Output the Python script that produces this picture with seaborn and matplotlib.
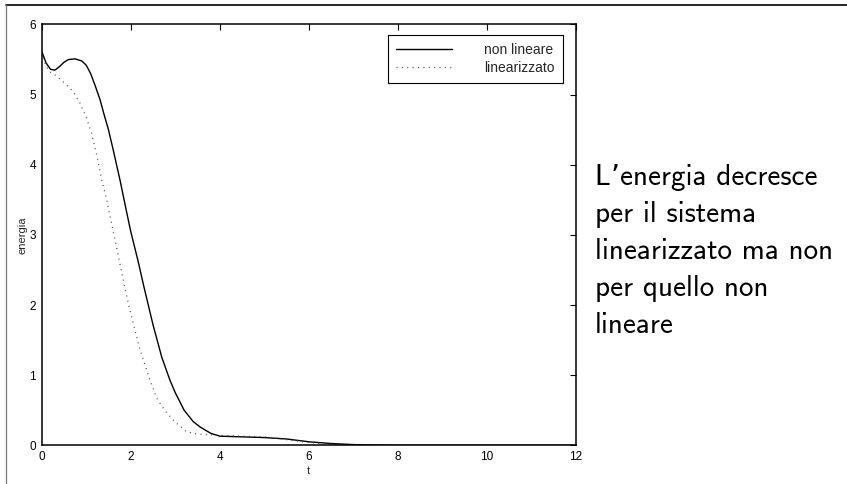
import matplotlib
matplotlib.use("Agg")
import matplotlib.pyplot as plt
from matplotlib.lines import Line2D
import seaborn as sns
import pandas as pd

# ---- data ----
t_nonlin = [0.0, 0.1, 0.2, 0.3, 0.4, 0.5, 0.6, 0.75, 0.9, 1.0, 1.1, 1.2, 1.31, 1.4, 1.5,
            1.6, 1.76, 1.9, 2.0, 2.16, 2.3, 2.5, 2.7, 2.88, 3.0, 3.2, 3.4, 3.56, 3.8,
            4.0, 4.5, 5.0, 5.5, 6.0, 6.5, 7.0, 7.5, 8.0, 12.0]
e_nonlin = [5.62, 5.45, 5.36, 5.35, 5.40, 5.46, 5.50, 5.51, 5.48, 5.42, 5.30, 5.13, 4.93, 4.72, 4.50,
            4.23, 3.78, 3.35, 3.05, 2.64, 2.25, 1.72, 1.25, 0.93, 0.75, 0.50, 0.34, 0.26, 0.17,
            0.13, 0.12, 0.11, 0.09, 0.05, 0.025, 0.01, 0.003, 0.0, 0.0]

t_lin = [0.0, 0.1, 0.2, 0.3, 0.45, 0.64, 0.75, 0.86, 1.0, 1.12, 1.25, 1.35, 1.46, 1.6,
         1.74, 1.9, 2.0, 2.2, 2.43, 2.6, 2.81, 3.0, 3.26, 3.5, 3.78, 4.0, 4.5, 5.0,
         5.5, 6.0, 6.5, 7.0, 7.5, 12.0]
e_lin = [5.60, 5.40, 5.32, 5.28, 5.20, 5.09, 5.00, 4.88, 4.68, 4.45, 4.10, 3.78, 3.50, 3.07,
         2.64, 2.15, 1.88, 1.38, 0.93, 0.65, 0.46, 0.33, 0.19, 0.16, 0.15, 0.14, 0.13, 0.12,
         0.08, 0.04, 0.015, 0.003, 0.0, 0.0]

series_names = ["non lineare", "linearizzato"]
x_ticks = [0, 2, 4, 6, 8, 10, 12]
y_ticks = [0, 1, 2, 3, 4, 5, 6]
side_text = ["L\u2019energia decresce", "per il sistema", "linearizzato ma non",
             "per quello non", "lineare"]

df_nonlin = pd.DataFrame({"t": t_nonlin, "energia": e_nonlin})
df_lin = pd.DataFrame({"t": t_lin, "energia": e_lin})

sns.set_style("white")
plt.rcParams["font.family"] = ["Liberation Sans", "DejaVu Sans"]

fig = plt.figure(figsize=(8.47, 4.84), dpi=100)
ax = fig.add_axes([0.0492, 0.0800, 0.6308, 0.8694])

sns.lineplot(data=df_nonlin, x="t", y="energia", ax=ax, color="black",
             linewidth=1.0, label=series_names[0], sort=False)
sns.lineplot(data=df_lin, x="t", y="energia", ax=ax, color="#444444",
             linewidth=0.9, label=series_names[1], sort=False, dashes=False)
ax.lines[1].set_dashes([0.8, 3.5])

ax.set_xlim(0, 12)
ax.set_ylim(0, 6)
ax.set_xticks(x_ticks)
ax.set_yticks(y_ticks)
ax.tick_params(direction="in", length=4, width=0.8, top=True, right=True,
               labelsize=8.5, colors="black", pad=4)
for s in ax.spines.values():
    s.set_visible(True)
    s.set_color("black")
    s.set_linewidth(1.1)
ax.set_xlabel("t", fontsize=8, labelpad=2)
ax.set_ylabel("energia", fontsize=8, labelpad=1.5)

leg = ax.legend(loc="upper right", bbox_to_anchor=(0.975, 0.975), borderaxespad=0,
                fancybox=False, edgecolor="black", framealpha=1, fontsize=10,
                handlelength=4.0, handletextpad=2.3, borderpad=0.6,
                labelspacing=0.25)
leg.get_frame().set_linewidth(0.8)

# outer frame
fig.add_artist(Line2D([0.0071, 1.0], [0.9897, 0.9897], transform=fig.transFigure,
                      color="black", linewidth=1.2))
fig.add_artist(Line2D([0.0071, 0.0071], [0.0, 0.9897], transform=fig.transFigure,
                      color="#777777", linewidth=0.9))

# side text
baselines_px = [185.0, 222.0, 259.0, 296.0, 333.0]
for line, ypx in zip(side_text, baselines_px):
    fig.text(595 / 847, 1 - ypx / 484, line, family=["cmss10", "DejaVu Sans"],
             fontsize=21.0, va="baseline", ha="left", color="black")

fig.savefig("out.png", dpi=100)
